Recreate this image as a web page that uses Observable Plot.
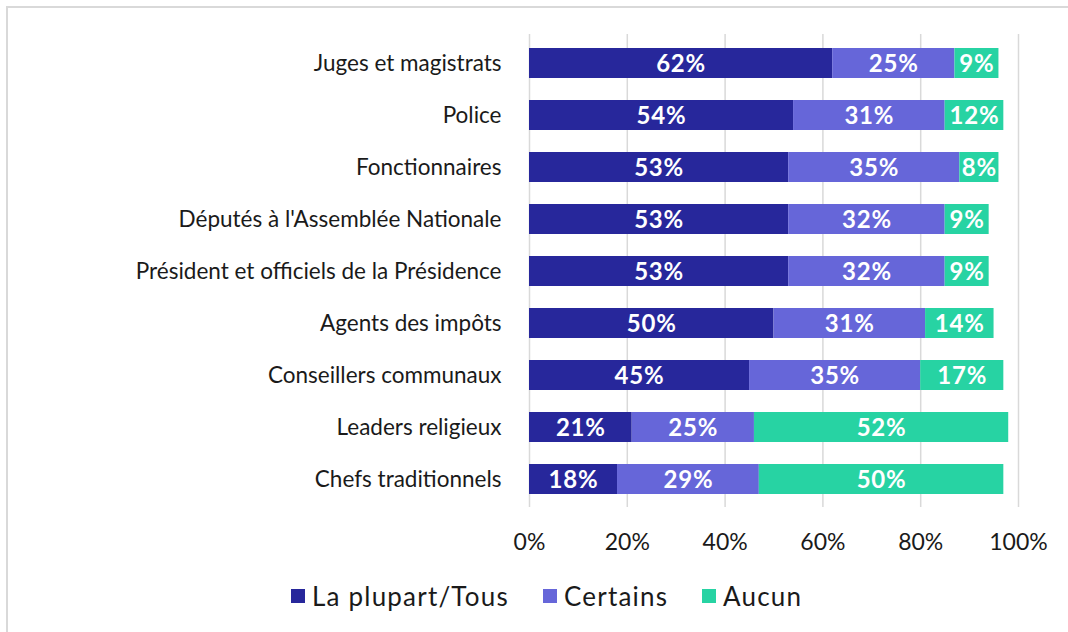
<!DOCTYPE html>
<html>
<head>
<meta charset="utf-8">
<script src="https://cdn.jsdelivr.net/npm/d3@7"></script>
<script src="https://cdn.jsdelivr.net/npm/@observablehq/plot@0.6"></script>
<style>
  html, body { margin: 0; padding: 0; background: #fff; overflow: hidden; width: 1068px; height: 632px; }
  #frame { position: absolute; left: 6px; top: 6px; width: 1100px; height: 700px; border: 2px solid #d9d9d9; box-sizing: border-box; }
  #chart { position: absolute; left: 0; top: 0; }
  #legend { position: absolute; top: 579px; left: 0; width: 1068px; height: 34px; font-family: Lato, sans-serif; font-size: 26px; letter-spacing: 1.2px; color: #1a1a1a; white-space: nowrap; }
  .item { position: absolute; top: 0; display: flex; align-items: center; height: 34px; }
  .sw { width: 14px; height: 14px; margin-right: 7px; }
</style>
</head>
<body>
<div id="frame"></div>
<div id="chart"></div>
<div id="legend"></div>
<script>
const categories = [
  "Juges et magistrats",
  "Police",
  "Fonctionnaires",
  "Députés à l'Assemblée Nationale",
  "Président et officiels de la Présidence",
  "Agents des impôts",
  "Conseillers communaux",
  "Leaders religieux",
  "Chefs traditionnels"
];
const seriesNames = ["La plupart/Tous", "Certains", "Aucun"];
const plupart = [62, 54, 53, 53, 53, 50, 45, 21, 18];
const certains = [25, 31, 35, 32, 32, 31, 35, 25, 29];
const aucun = [9, 12, 8, 9, 9, 14, 17, 52, 50];
const xTicks = [0, 20, 40, 60, 80, 100];
const colors = ["#27279b", "#6666d9", "#27d3a3"];

const seriesValues = [plupart, certains, aucun];
const data = [];
categories.forEach((c, i) => {
  seriesNames.forEach((s, j) => data.push({cat: c, series: s, value: seriesValues[j][i]}));
});

const font = "Lato, sans-serif";
const chart = Plot.plot({
  width: 1068,
  height: 560,
  marginLeft: 529,
  marginRight: 50,
  marginTop: 34,
  marginBottom: 53,
  style: {fontFamily: font, fontSize: "22px", color: "#1a1a1a", background: "transparent"},
  x: {domain: [0, 100], ticks: xTicks, tickFormat: d => d + "%", label: null},
  y: {domain: categories, paddingInner: 0.43, paddingOuter: 0.215, label: null},
  color: {domain: seriesNames, range: colors},
  marks: [
    Plot.gridX(xTicks, {stroke: "#d9d9d9", strokeWidth: 1.5, strokeOpacity: 1}),
    Plot.barX(data, Plot.stackX({x: "value", y: "cat", fill: "series"})),
    Plot.text(data, Plot.stackX({x: "value", y: "cat", text: d => d.value + "%", fill: "white", fontWeight: "bold", fontSize: 24, dy: 1})),
    Plot.axisX(xTicks, {tickSize: 0, tickPadding: 26, tickFormat: d => d + "%", fontSize: 23, label: null}),
    Plot.axisY({tickSize: 0, tickPadding: 28, fontSize: 22.5, label: null})
  ]
});
chart.querySelectorAll("text").forEach(t => {
  if (t.getAttribute("fill") === "white" || (t.parentNode && t.parentNode.getAttribute && t.parentNode.getAttribute("fill") === "white")) t.style.letterSpacing = "0.8px";
});
document.getElementById("chart").appendChild(chart);

const legend = document.getElementById("legend");
const legendLefts = [291, 543, 702];
seriesNames.forEach((s, i) => {
  const it = document.createElement("div");
  it.className = "item";
  it.style.left = legendLefts[i] + "px";
  const sw = document.createElement("div");
  sw.className = "sw";
  sw.style.background = colors[i];
  const t = document.createElement("span");
  t.textContent = s;
  it.appendChild(sw); it.appendChild(t);
  legend.appendChild(it);
});
</script>
</body>
</html>
